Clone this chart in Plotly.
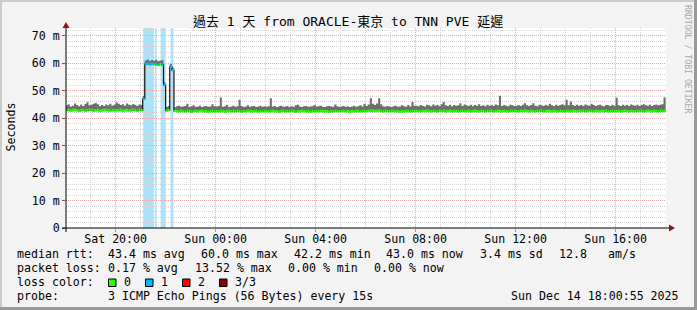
import plotly.graph_objects as go
from datetime import datetime, timedelta

# ---------------- data ----------------
bin_start = datetime(2025, 12, 13, 18, 0, 0)
bin_minutes = 5
range_start = "2025-12-13 18:00:55"
range_end = "2025-12-14 18:00:55"

# median rtt per 5-minute bin (ms)
median_ms = [
    42.9, 42.8, 42.7, 42.9, 43.0, 42.8, 42.6, 42.8, 42.9, 42.7, 42.8, 43.0, 42.9, 42.7, 42.8, 42.9, 42.6, 42.8, 42.9, 43.0, 42.8, 42.7, 42.9, 42.8,
    42.8, 42.9, 43.0, 42.7, 42.8, 42.9, 42.7, 42.8, 43.0, 42.8, 42.7, 42.9, 42.8, 47.0, 59.6, 59.8, 59.5, 59.7, 59.5, 59.6, 59.3, 59.5, 59.4, 52.0,
    42.7, 42.8, 58.6, 57.4, 42.6, 42.5, 42.4, 42.6, 42.5, 42.4, 42.6, 42.5, 42.3, 42.5, 42.6, 42.4, 42.5, 42.6, 42.4, 42.5, 42.3, 42.5, 42.6, 42.4,
    42.5, 42.4, 42.6, 42.5, 42.3, 42.5, 42.6, 42.4, 42.5, 42.4, 42.6, 42.5, 42.3, 42.5, 42.4, 42.6, 42.5, 42.4, 42.5, 42.6, 42.3, 42.5, 42.4, 42.5,
    42.5, 42.4, 42.5, 42.6, 42.4, 42.5, 42.3, 42.5, 42.6, 42.4, 42.5, 42.4, 42.6, 42.5, 42.3, 42.5, 42.4, 42.6, 42.5, 42.4, 42.5, 42.3, 42.5, 42.4,
    42.5, 42.4, 42.6, 42.5, 42.4, 42.5, 42.3, 42.5, 42.4, 42.6, 42.5, 42.4, 42.5, 42.6, 42.4, 42.5, 42.3, 42.5, 42.4, 42.6, 42.5, 42.4, 42.5, 42.6,
    42.5, 42.6, 42.7, 42.6, 42.5, 42.6, 42.8, 42.5, 42.4, 42.6, 42.5, 42.4, 42.5, 42.6, 42.4, 42.5, 42.3, 42.5, 42.4, 42.6, 42.5, 42.4, 42.5, 42.6,
    42.6, 42.5, 42.4, 42.6, 42.5, 42.7, 42.5, 42.4, 42.6, 42.5, 42.4, 42.6, 42.5, 42.7, 42.4, 42.5, 42.6, 42.4, 42.5, 42.6, 42.4, 42.5, 42.7, 42.5,
    42.5, 42.6, 42.4, 42.5, 42.7, 42.5, 42.4, 42.6, 42.5, 42.4, 42.6, 42.5, 42.7, 42.4, 42.5, 42.6, 42.5, 42.4, 42.6, 42.5, 42.4, 42.6, 42.5, 42.7,
    42.5, 42.4, 42.6, 42.5, 42.7, 42.5, 42.4, 42.6, 42.5, 42.4, 42.6, 42.5, 42.7, 42.4, 42.5, 42.6, 42.5, 42.4, 42.6, 42.5, 42.4, 42.6, 42.5, 42.4,
    42.6, 42.5, 42.4, 42.6, 42.5, 42.4, 42.6, 42.5, 42.7, 42.4, 42.5, 42.6, 42.5, 42.4, 42.6, 42.5, 42.4, 42.6, 42.5, 42.7, 42.4, 42.5, 42.6, 42.5,
    42.5, 42.6, 42.4, 42.5, 42.7, 42.5, 42.4, 42.6, 42.5, 42.4, 42.6, 42.5, 42.7, 42.4, 42.5, 42.6, 42.5, 42.4, 42.6, 42.5, 42.4, 42.6, 42.5, 42.6,
]

# top of the smoke (slowest ping) per bin (ms)
smoke_hi_ms = [
    44.6, 45.0, 44.2, 44.5, 45.3, 44.7, 44.3, 44.9, 44.4, 45.1, 45.7, 44.6, 44.8, 45.2, 45.5, 45.0, 44.3, 44.7, 44.4, 44.9, 44.6, 45.2, 44.5, 44.8,
    45.6, 45.2, 44.7, 45.0, 44.5, 45.3, 44.8, 44.6, 45.1, 44.7, 44.4, 44.9, 44.7, 48.0, 60.9, 61.3, 60.7, 61.1, 60.8, 61.2, 60.6, 60.9, 61.0, 53.0,
    44.0, 44.4, 59.6, 58.3, 43.9, 44.3, 44.5, 44.1, 44.2, 44.4, 45.2, 44.0, 44.3, 44.6, 44.1, 44.2, 44.5, 44.0, 44.3, 44.4, 44.1, 44.2, 45.0, 44.3,
    44.2, 44.4, 47.5, 44.1, 44.3, 44.7, 44.0, 44.2, 44.5, 44.1, 44.3, 46.6, 44.4, 44.0, 44.2, 44.6, 44.1, 44.3, 44.4, 44.0, 44.2, 44.5, 44.1, 44.3,
    44.1, 44.3, 47.2, 44.2, 44.4, 44.0, 44.3, 44.5, 44.1, 44.2, 44.4, 44.0, 44.3, 44.1, 44.6, 44.8, 44.2, 44.0, 44.3, 44.4, 44.1, 44.2, 44.3, 44.7,
    44.2, 44.3, 44.5, 44.1, 44.0, 44.3, 44.4, 44.2, 44.1, 44.9, 44.3, 44.0, 44.2, 44.4, 44.1, 44.3, 44.0, 44.2, 44.5, 44.1, 44.3, 44.6, 44.2, 45.2,
    44.4, 44.9, 47.2, 45.2, 44.7, 45.3, 47.2, 45.0, 44.3, 44.1, 44.4, 44.2, 44.0, 44.3, 44.5, 44.1, 44.2, 44.6, 44.3, 44.1, 44.7, 44.2, 45.8, 44.5,
    44.5, 44.3, 44.7, 44.4, 44.2, 44.8, 44.6, 44.3, 44.9, 44.5, 44.7, 44.3, 45.0, 45.8, 44.6, 44.4, 44.8, 44.3, 44.7, 44.5, 44.6, 45.4, 44.4, 44.9,
    44.6, 44.4, 44.8, 44.3, 44.7, 44.5, 45.0, 44.4, 44.6, 44.3, 44.8, 44.5, 44.7, 44.4, 44.9, 44.6, 48.1, 44.4, 44.7, 44.5, 44.3, 44.8, 44.6, 44.4,
    44.5, 44.7, 44.4, 44.8, 45.4, 44.6, 44.4, 44.7, 45.4, 44.5, 44.3, 44.8, 44.6, 44.4, 44.7, 44.5, 45.2, 44.6, 44.4, 44.8, 44.5, 44.7, 45.0, 44.6,
    46.6, 44.6, 46.0, 44.7, 44.4, 44.8, 44.5, 44.7, 44.4, 44.9, 44.6, 44.5, 45.2, 44.7, 44.4, 44.6, 44.8, 44.5, 44.3, 44.7, 44.6, 44.4, 44.8, 44.5,
    47.4, 44.6, 44.4, 44.8, 44.5, 44.7, 44.4, 44.9, 44.6, 44.5, 44.8, 44.4, 44.7, 45.0, 44.6, 44.5, 44.8, 44.4, 44.7, 44.9, 44.6, 44.8, 45.0, 47.5,
]

# periods with 1/3 packet loss
loss_start = ["2025-12-13 21:06:00", "2025-12-13 21:34:20", "2025-12-13 21:48:00", "2025-12-13 22:12:00"]
loss_end = ["2025-12-13 21:32:00", "2025-12-13 21:38:30", "2025-12-13 21:59:30", "2025-12-13 22:18:40"]

y_ticks = [0, 10, 20, 30, 40, 50, 60, 70]
y_tick_labels = ["0", "10 m", "20 m", "30 m", "40 m", "50 m", "60 m", "70 m"]
y_max = 72.73

title_text = "過去 1 天 from ORACLE-東京 to TNN PVE 延遲"
stat_lines = [
    [("median rtt:", 16), ("43.4 ms avg", 107), ("60.0 ms max", 199.5), ("42.2 ms min", 293),
     ("43.0 ms now", 385), ("3.4 ms sd", 479), ("12.8", 558), ("am/s", 607)],
    [("packet loss:", 16), ("0.17 % avg", 107), ("13.52 % max", 194), ("0.00 % min", 287), ("0.00 % now", 372.5)],
    [("loss color:", 16), ("0", 123), ("1", 160), ("2", 197), ("3/3", 234)],
    [("probe:", 16), ("3 ICMP Echo Pings (56 Bytes) every 15s", 107)],
]
loss_colors = ["#26ff00", "#00b8ff", "#ff0000", "#8b0000"]
loss_box_x = [108.5, 145.5, 182.5, 219.5]
stamp_text = "Sun Dec 14 18:00:55 2025"

# ---------------- geometry helpers ----------------
W_PX, H_PX = 697, 310
L, T, PW, PH = 66, 28, 600, 200
R = W_PX - L - PW
B = H_PX - T - PH


def px2x(px):
    return (px - L) / PW


def py2y(py):
    return (T + PH - py) / PH


MONO = "DejaVu Sans Mono, Noto Sans CJK TC, monospace"
FS = 11.6

N = len(median_ms)
edges = [bin_start + timedelta(minutes=bin_minutes * i) for i in range(N + 1)]
ls_dt = [datetime.fromisoformat(s) for s in loss_start]
le_dt = [datetime.fromisoformat(s) for s in loss_end]


def lossy(i):
    mid = edges[i] + (edges[i + 1] - edges[i]) / 2
    return any(s <= mid <= e for s, e in zip(ls_dt, le_dt))


fig = go.Figure()

# smoke
fig.add_trace(go.Scatter(x=edges, y=median_ms + [median_ms[-1]], mode="lines",
                         line=dict(width=0, shape="hv"), hoverinfo="skip", showlegend=False))
fig.add_trace(go.Scatter(x=edges, y=smoke_hi_ms + [smoke_hi_ms[-1]], mode="lines",
                         line=dict(width=0, shape="hv"), fill="tonexty", fillcolor="#6e6e6e",
                         hoverinfo="skip", showlegend=False))
# black median step line
fig.add_trace(go.Scatter(x=edges, y=median_ms + [median_ms[-1]], mode="lines",
                         line=dict(width=1.2, shape="hv", color="#101010"),
                         hoverinfo="skip", showlegend=False))
# coloured median by loss
for flag, col in [(False, loss_colors[0]), (True, loss_colors[1])]:
    xs, ys = [], []
    for i in range(N):
        if lossy(i) == flag:
            xs += [edges[i], edges[i + 1], None]
            ys += [median_ms[i], median_ms[i], None]
    fig.add_trace(go.Scatter(x=xs, y=ys, mode="lines", line=dict(width=2.6, color=col),
                             connectgaps=False, hoverinfo="skip", showlegend=False))

shapes = []
for s, e in zip(loss_start, loss_end):
    shapes.append(dict(type="rect", xref="x", yref="paper", x0=s, x1=e, y0=0, y1=1,
                       fillcolor="#aae2fa", line_width=0, layer="between"))

# frame
shapes += [
    dict(type="rect", xref="paper", yref="paper", x0=px2x(0), x1=px2x(W_PX), y0=py2y(2), y1=py2y(0),
         fillcolor="#cbcbcb", line_width=0, layer="above"),
    dict(type="rect", xref="paper", yref="paper", x0=px2x(0), x1=px2x(2), y0=py2y(H_PX), y1=py2y(0),
         fillcolor="#cbcbcb", line_width=0, layer="above"),
    dict(type="rect", xref="paper", yref="paper", x0=px2x(0), x1=px2x(W_PX), y0=py2y(H_PX), y1=py2y(H_PX - 3),
         fillcolor="#999999", line_width=0, layer="above"),
    dict(type="rect", xref="paper", yref="paper", x0=px2x(W_PX - 3), x1=px2x(W_PX), y0=py2y(H_PX), y1=py2y(0),
         fillcolor="#999999", line_width=0, layer="above"),
]
# axes with arrows
shapes += [
    dict(type="line", xref="paper", yref="paper", x0=px2x(62), x1=px2x(670), y0=0, y1=0,
         line=dict(color="#000000", width=1), layer="above"),
    dict(type="line", xref="paper", yref="paper", x0=0, x1=0, y0=py2y(232), y1=py2y(24),
         line=dict(color="#000000", width=1), layer="above"),
    dict(type="path", xref="paper", yref="paper",
         path=f"M {px2x(669)} {py2y(224.5)} L {px2x(675)} {py2y(228)} L {px2x(669)} {py2y(231.5)} Z",
         fillcolor="#9b1010", line_width=0, layer="above"),
    dict(type="path", xref="paper", yref="paper",
         path=f"M {px2x(62.5)} {py2y(28)} L {px2x(66)} {py2y(22)} L {px2x(69.5)} {py2y(28)} Z",
         fillcolor="#9b1010", line_width=0, layer="above"),
]
# legend boxes
for bx, col in zip(loss_box_x, loss_colors):
    shapes.append(dict(type="rect", xref="paper", yref="paper", x0=px2x(bx), x1=px2x(bx + 7.5),
                       y0=py2y(286.5), y1=py2y(279), fillcolor=col,
                       line=dict(color="#000000", width=1), layer="above"))

ann = []
ann.append(dict(text=title_text, x=px2x(348), y=py2y(21), xref="paper", yref="paper",
                xanchor="center", yanchor="middle", showarrow=False,
                font=dict(family=MONO, size=13, color="#000000")))
ann.append(dict(text="Seconds", x=px2x(10), y=py2y(127.5), xref="paper", yref="paper",
                xanchor="center", yanchor="middle", showarrow=False, textangle=-90,
                font=dict(family=MONO, size=FS, color="#000000")))
ann.append(dict(text="RRDTOOL / TOBI OETIKER", x=px2x(688), y=py2y(59), xref="paper", yref="paper",
                xanchor="center", yanchor="middle", showarrow=False, textangle=90,
                font=dict(family=MONO, size=8.2, color="#a8a8a8")))
row_y = [254, 268, 282, 296]
for line, ry in zip(stat_lines, row_y):
    for txt, tx in line:
        ann.append(dict(text=txt.replace(" ", "&nbsp;"), x=px2x(tx - 1), y=py2y(ry), xref="paper", yref="paper",
                        xanchor="left", yanchor="middle", showarrow=False,
                        font=dict(family=MONO, size=FS, color="#000000")))
ann.append(dict(text=stamp_text.replace(" ", "&nbsp;"), x=px2x(681), y=py2y(296), xref="paper", yref="paper",
                xanchor="right", yanchor="middle", showarrow=False,
                font=dict(family=MONO, size=FS, color="#000000")))

grid_minor = "#d4d4d4"
grid_major = "#eaa8a8"

fig.update_layout(
    width=W_PX, height=H_PX,
    margin=dict(l=L, r=R, t=T, b=B, pad=0),
    paper_bgcolor="#f3f3f3", plot_bgcolor="#ffffff",
    showlegend=False,
    shapes=shapes, annotations=ann,
    xaxis=dict(
        type="date", range=[range_start, range_end],
        tick0="2025-12-13 20:00", dtick=4 * 3600 * 1000, tickformat="%a %H:%M",
        showgrid=True, gridcolor=grid_major, griddash="1px,1px", gridwidth=1,
        ticks="outside", ticklen=3, tickcolor="#e08080", ticklabelstandoff=-3,
        minor=dict(tick0="2025-12-13 20:00", dtick=3600 * 1000, showgrid=True,
                   gridcolor=grid_minor, griddash="1px,1px", gridwidth=1),
        showline=False, zeroline=False,
        tickfont=dict(family=MONO, size=FS, color="#000000"),
        fixedrange=True,
    ),
    yaxis=dict(
        range=[0, y_max], tickvals=y_ticks, ticktext=y_tick_labels,
        showgrid=True, gridcolor=grid_major, griddash="1px,1px", gridwidth=1,
        ticks="outside", ticklen=3, tickcolor="#606060",
        minor=dict(dtick=2, tick0=0, showgrid=True, gridcolor=grid_minor, griddash="1px,1px", gridwidth=1),
        showline=False, zeroline=False,
        tickfont=dict(family=MONO, size=FS, color="#000000"),
        fixedrange=True,
    ),
)

fig.write_html("out.html")
